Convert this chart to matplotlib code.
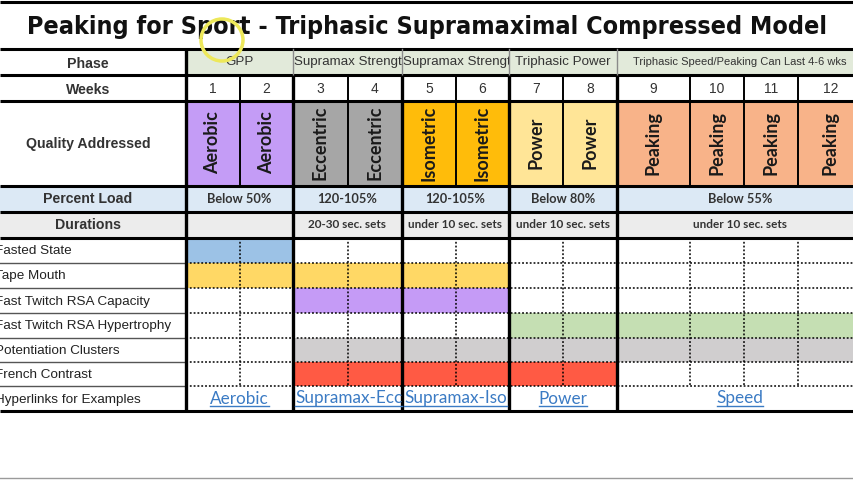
import matplotlib
matplotlib.use("Agg")
import matplotlib.pyplot as plt
from matplotlib import font_manager as fm
from matplotlib.patches import Rectangle, Circle
from matplotlib.transforms import Bbox, TransformedBbox

# ---- data ----
title = "Peaking for Sport - Triphasic Supramaximal Compressed Model"
weeks = list(range(1, 13))
phase_names = ["GPP", "Supramax Strength", "Supramax Strength", "Triphasic Power",
               "Triphasic Speed/Peaking Can Last 4-6 wks"]
phase_first = [1, 3, 5, 7, 9]
phase_last = [2, 4, 6, 8, 12]
quality = ["Aerobic"] * 2 + ["Eccentric"] * 2 + ["Isometric"] * 2 + ["Power"] * 2 + ["Peaking"] * 4
percent_load = ["Below 50%", "120-105%", "120-105%", "Below 80%", "Below 55%"]
durations = ["", "20-30 sec. sets", "under 10 sec. sets", "under 10 sec. sets", "under 10 sec. sets"]
hyperlinks = ["Aerobic", "Supramax-Ecc", "Supramax-Iso", "Power", "Speed"]
methods = ["Fasted State", "Tape Mouth", "Fast Twitch RSA Capacity",
           "Fast Twitch RSA Hypertrophy", "Potentiation Clusters", "French Contrast"]
method_first = [1, 1, 3, 7, 3, 3]
method_last = [2, 6, 6, 12, 12, 8]

# ---- style / layout ----
quality_colors = {"Aerobic": "#c49cf6", "Eccentric": "#a6a6a6", "Isometric": "#ffbc0a",
                  "Power": "#ffe597", "Peaking": "#f8b389"}
method_colors = ["#9cc2e6", "#ffd865", "#c59bf6", "#c5dfb3", "#d0cecf", "#ff5a44"]
col_x = [186, 240, 293, 348, 402, 456, 509, 563, 617, 690, 744, 798, 863]
group_idx = [0, 2, 4, 6, 8]
y_phase, y_weeks, y_qual, y_pct, y_dur, y_meth = 49, 75, 101, 186, 212, 238
meth_y = [238, 263, 288, 313, 338, 362, 386, 411]
label_x = 88

# narrowest bold face we can find for the title
title_font = fm.FontProperties(family="DejaVu Sans", weight="bold")
for f in fm.fontManager.ttflist:
    nm = (f.name + " " + str(f.style) + " " + str(f.stretch)).lower()
    if ("condensed" in nm or "narrow" in nm) and f.weight in (700, "bold") and f.style == "normal":
        title_font = fm.FontProperties(fname=f.fname)
        break

fig = plt.figure(figsize=(8.54, 4.8), dpi=100)
ax = fig.add_axes([0, 0, 1, 1])
ax.set_xlim(0, 854)
ax.set_ylim(480, 0)
ax.axis("off")


def span(first, last):
    return col_x[first - 1], col_x[last]


def fill(x0, x1, y0, y1, color):
    ax.add_patch(Rectangle((x0, y0), x1 - x0, y1 - y0, facecolor=color, edgecolor="none", zorder=1))


def clip_text(x, y, s, x0, x1, y0, y1, **kw):
    t = ax.text(x, y, s, zorder=4, **kw)
    t.set_clip_box(TransformedBbox(Bbox([[x0, y0], [x1, y1]]), ax.transData))
    t.set_clip_on(True)
    return t


# title, sized to span the same width as the original
title_font.set_size(26)
ttl = ax.text(427, 27, title, ha="center", va="center", fontproperties=title_font,
              color="#111111", zorder=4)
fig.canvas.draw()
w = ttl.get_window_extent(fig.canvas.get_renderer()).width
title_font.set_size(min(34, 26 * 800 / w))
ttl.set_fontproperties(title_font)

# phase row
fill(186, 863, y_phase, y_weeks, "#e2eada")
for name, a, b in zip(phase_names, phase_first, phase_last):
    x0, x1 = span(a, b)
    if len(name) > 30:
        clip_text((x0 + x1) / 2, 62, name, x0, x1, y_phase, y_weeks, ha="center", va="center",
                  fontsize=8.0, family="Liberation Sans", color="#333333")
    elif x1 - x0 < 115 and len(name) > 15:
        clip_text(x0 + 1, 62, name, x0, x1, y_phase, y_weeks, ha="left", va="center",
                  fontsize=9.6, family="Liberation Sans", color="#333333")
    else:
        clip_text((x0 + x1) / 2, 62, name, x0, x1, y_phase, y_weeks, ha="center", va="center",
                  fontsize=9.6, family="Liberation Sans", color="#333333")

# weeks row
for i, wk in enumerate(weeks):
    ax.text((col_x[i] + col_x[i + 1]) / 2, 89, str(wk), ha="center", va="center",
            fontsize=10, family="Liberation Sans", color="#333333", zorder=4)

# quality row
for i, q in enumerate(quality):
    fill(col_x[i], col_x[i + 1], y_qual, y_pct, quality_colors[q])
    ax.text((col_x[i] + col_x[i + 1]) / 2, 143, q, rotation=90, ha="center", va="center",
            rotation_mode="anchor", fontsize=13, fontweight="bold", family="Lato",
            color="#1a1a1a", zorder=4)

# percent load & durations
fill(0, 863, y_pct, y_dur, "#dce9f5")
fill(0, 863, y_dur, y_meth, "#ececec")
for k, (a, b) in enumerate(zip(phase_first, phase_last)):
    x0, x1 = span(a, b)
    ax.text((x0 + x1) / 2, 199, percent_load[k], ha="center", va="center", fontsize=9.2,
            fontweight="bold", family="Lato", color="#333333", zorder=4)
    clip_text((x0 + x1) / 2, 225, durations[k], x0, x1, y_dur, y_meth, ha="center",
              va="center", fontsize=8.5, fontweight="bold", family="Lato", color="#333333")

# left labels
for s, y in [("Phase", 64), ("Weeks", 90), ("Quality Addressed", 144),
             ("Percent Load", 199), ("Durations", 225)]:
    ax.text(label_x, y, s, ha="center", va="center", fontsize=10.2, fontweight="bold",
            family="Liberation Sans", color="#333333", zorder=4)

# method rows
for j, m in enumerate(methods):
    x0, x1 = span(method_first[j], method_last[j])
    fill(x0, x1, meth_y[j], meth_y[j + 1], method_colors[j])
    ax.text(-5, (meth_y[j] + meth_y[j + 1]) / 2 + 1, m, ha="left", va="center", fontsize=9.7,
            family="Liberation Sans", color="#222222", zorder=4)
ax.text(-5, (meth_y[6] + meth_y[7]) / 2 + 1, "Hyperlinks for Examples", ha="left", va="center",
        fontsize=9.7, family="Liberation Sans", color="#222222", zorder=4)

# hyperlinks
link_texts = []
for k, (a, b) in enumerate(zip(phase_first, phase_last)):
    x0, x1 = span(a, b)
    name = hyperlinks[k]
    if name.startswith("Supramax"):
        t = clip_text(x0 + 2, 398.5, name, x0, x1, meth_y[6], meth_y[7], ha="left",
                      va="center", fontsize=12.3, family="Lato", color="#3b7bc4")
    else:
        t = clip_text((x0 + x1) / 2, 398.5, name, x0, x1, meth_y[6], meth_y[7], ha="center",
                      va="center", fontsize=12.3, family="Lato", color="#3b7bc4")
    link_texts.append((t, x0, x1))

# grid lines
solid = dict(color="black", zorder=3, solid_capstyle="butt")
for y in [1.5, y_phase, y_weeks, y_qual, y_pct, y_dur, y_meth, 411]:
    ax.plot([0, 863], [y, y], lw=2.2, **solid)
for y in meth_y[1:-1]:
    ax.plot([0, 186], [y, y], lw=1.0, color="#555555", zorder=3)
    ax.plot([186, 863], [y, y], lw=1.1, color="black", ls=(0, (1.2, 1.3)), zorder=3)
ax.plot([186, 186], [y_phase, 411], lw=2.4, **solid)
for i in range(1, 12):
    x = col_x[i]
    if i in group_idx:
        ax.plot([x, x], [y_phase, y_weeks], lw=1.0, color="#8a8a8a", zorder=3)
        ax.plot([x, x], [y_weeks, 411], lw=2.4, **solid)
    else:
        ax.plot([x, x], [y_weeks, y_pct], lw=1.4, **solid)
        ax.plot([x, x], [y_meth, meth_y[6]], lw=1.1, color="black", ls=(0, (1.2, 1.3)), zorder=3)

# faint bottom line and cursor highlight from the screen capture
ax.plot([0, 854], [478, 478], lw=1, color="#9a9a9a", zorder=3)
ax.add_patch(Circle((222, 40), 21, fill=False, ec="#ede85a", lw=2.5, zorder=5))

# underline the hyperlinks
fig.canvas.draw()
r = fig.canvas.get_renderer()
inv = ax.transData.inverted()
for t, x0, x1 in link_texts:
    bb = t.get_window_extent(r)
    (a0, ya), (a1, yb) = inv.transform([[bb.x0, bb.y0], [bb.x1, bb.y1]])
    ax.plot([max(a0, x0), min(a1, x1)], [ya - 1.0, ya - 1.0], lw=1.0, color="#3b7bc4", zorder=4)

fig.savefig("out.png", dpi=100)
